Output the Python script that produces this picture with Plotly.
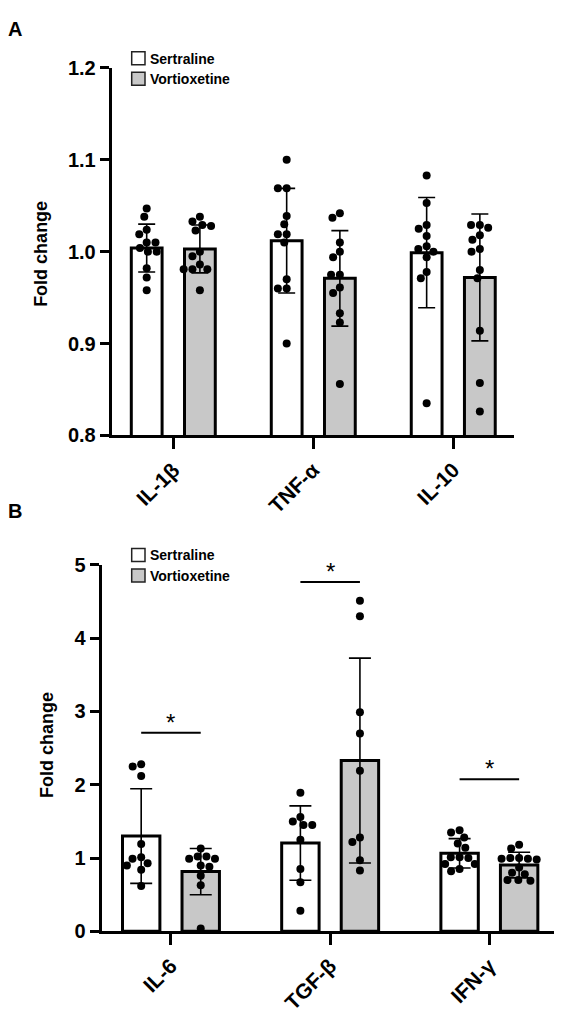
import plotly.graph_objects as go

W, H = 566, 1014

# ---------------- data ----------------
cats_A = ["IL-1β", "TNF-α", "IL-10"]
cats_B = ["IL-6", "TGF-β", "IFN-γ"]
series = ["Sertraline", "Vortioxetine"]

mean_A_sert = [1.004, 1.012, 0.999]
sd_A_sert = [0.026, 0.057, 0.060]
mean_A_vort = [1.003, 0.971, 0.972]
sd_A_vort = [0.026, 0.052, 0.069]

pts_A_sert = [
    [1.047, 1.038, 1.024, 1.019, 1.010, 1.010, 1.004, 1.000, 1.000, 0.982, 0.972, 0.958],
    [1.100, 1.069, 1.069, 1.039, 1.030, 1.019, 1.019, 1.010, 0.970, 0.960, 0.960, 0.900],
    [1.083, 1.053, 1.029, 1.025, 1.017, 1.006, 1.003, 1.000, 0.994, 0.978, 0.971, 0.835],
]
pts_A_vort = [
    [1.038, 1.033, 1.029, 1.028, 1.023, 1.000, 0.995, 0.986, 0.981, 0.981, 0.981, 0.958],
    [1.042, 1.037, 1.010, 1.000, 0.994, 0.975, 0.975, 0.961, 0.955, 0.933, 0.923, 0.856],
    [1.029, 1.029, 1.026, 1.018, 1.013, 1.003, 1.000, 0.980, 0.971, 0.914, 0.857, 0.826],
]

mean_B_sert = [1.30, 1.205, 1.065]
sd_B_sert = [0.645, 0.507, 0.20]
mean_B_vort = [0.815, 2.33, 0.905]
sd_B_vort = [0.315, 1.398, 0.175]

pts_B_sert = [
    [2.28, 2.25, 2.12, 1.19, 1.01, 0.99, 0.93, 0.90, 0.84, 0.62],
    [1.89, 1.56, 1.50, 1.45, 1.45, 1.25, 0.85, 0.67, 0.28],
    [1.38, 1.35, 1.28, 1.20, 1.14, 1.01, 1.01, 1.00, 0.92, 0.92, 0.85, 0.82],
]
pts_B_vort = [
    [1.13, 1.02, 1.02, 0.99, 0.99, 0.90, 0.88, 0.76, 0.63, 0.04],
    [4.51, 4.30, 2.99, 2.70, 2.19, 1.28, 1.22, 0.97, 0.83],
    [1.18, 1.13, 1.00, 1.00, 0.99, 0.99, 0.98, 0.87, 0.80, 0.78, 0.70, 0.70, 0.69],
]
sig_B = [2.71, 4.765, 2.076]

# ---------------- geometry ----------------
FONT = "Arial, Liberation Sans, sans-serif"
GRAY = "#c8c8c8"

def px_x(v):
    return v / W

def px_y(v):
    return 1 - v / H

panels = {
    "A": dict(x0=111.7, x1=514.0, y0=58.3, y1=434.3, xr=[-0.44, 2.434], yr=[0.8, 1.2],
              off=0.19, bw=0.22, cap=8.5),
    "B": dict(x0=101.7, x1=554.0, y0=566.7, y1=941.7, xr=[-0.435, 2.406], yr=[0, 5],
              off=0.187, bw=0.235, cap=11),
}


def swarm(values, ppu_y, D=8.8):
    order = sorted(range(len(values)), key=lambda i: -values[i])
    placed = []
    xs = [0.0] * len(values)
    for i in order:
        y = values[i] * ppu_y
        cands = [0.0]
        for (px, py) in placed:
            dy = y - py
            if abs(dy) < D:
                dx = (D * D - dy * dy) ** 0.5
                cands += [px - dx, px + dx]
        ok = [c for c in cands
              if all((c - px) ** 2 + (y - py) ** 2 >= D * D - 1e-6 for px, py in placed)]
        best = min(ok, key=lambda c: (abs(c), c))
        placed.append((best, y))
        xs[i] = best
    return xs


fig = go.Figure()

def add_panel(key, xa, ya, means_s, sds_s, means_v, sds_v, pts_s, pts_v):
    p = panels[key]
    ppu_x = (p["x1"] - p["x0"]) / (p["xr"][1] - p["xr"][0])
    ppu_y = (p["y1"] - p["y0"]) / (p["yr"][1] - p["yr"][0])
    n = len(means_s)
    for s, (means, sds, fill, sign) in enumerate([(means_s, sds_s, "white", -1),
                                                   (means_v, sds_v, GRAY, 1)]):
        xs = [i + sign * p["off"] for i in range(n)]
        fig.add_trace(go.Bar(
            x=xs, y=means, width=[p["bw"]] * n, xaxis=xa, yaxis=ya,
            marker=dict(color=fill, line=dict(color="black", width=3)),
            error_y=dict(type="data", array=sds, visible=True, color="black",
                         thickness=1.6, width=p["cap"]),
            showlegend=False, name=series[s],
        ))
    for s, (pts, sign) in enumerate([(pts_s, -1), (pts_v, 1)]):
        for i, vals in enumerate(pts):
            dx = swarm(vals, ppu_y)
            xs = [i + sign * p["off"] + d / ppu_x for d in dx]
            fig.add_trace(go.Scatter(
                x=xs, y=vals, mode="markers", xaxis=xa, yaxis=ya,
                marker=dict(color="black", size=8, line=dict(width=0)),
                showlegend=False, cliponaxis=False, hoverinfo="y",
            ))

add_panel("A", "x", "y", mean_A_sert, sd_A_sert, mean_A_vort, sd_A_vort, pts_A_sert, pts_A_vort)
add_panel("B", "x2", "y2", mean_B_sert, sd_B_sert, mean_B_vort, sd_B_vort, pts_B_sert, pts_B_vort)

tickfont = dict(family=FONT, size=20, color="black", weight="bold")
xtickfont = dict(family=FONT, size=21, color="black", weight="bold")

def xaxis_cfg(key, cats, anchor):
    p = panels[key]
    return dict(domain=[px_x(p["x0"]), px_x(p["x1"])], range=p["xr"], anchor=anchor,
                tickvals=[0, 1, 2], ticktext=cats, tickangle=-45, ticks="outside",
                ticklen=11, tickwidth=3, tickcolor="black", showline=True, linewidth=3,
                linecolor="black", showgrid=False, zeroline=False, tickfont=xtickfont,
                fixedrange=True)

def yaxis_cfg(key, anchor, dtick, fmt):
    p = panels[key]
    return dict(domain=[px_y(p["y1"]), px_y(p["y0"])], range=p["yr"], anchor=anchor,
                tick0=p["yr"][0], dtick=dtick, tickformat=fmt, ticks="outside",
                ticklen=9, tickwidth=3, tickcolor="black", showline=True, linewidth=3,
                linecolor="black", showgrid=False, zeroline=False, tickfont=tickfont,
                fixedrange=True)

shapes = []
annotations = []

# significance markers panel B
pB = panels["B"]
for i, h in enumerate(sig_B):
    shapes.append(dict(type="line", xref="x2", yref="y2", x0=i - pB["off"], x1=i + pB["off"],
                       y0=h, y1=h, line=dict(color="black", width=2)))
    annotations.append(dict(x=i, y=h, xref="x2", yref="y2", text="*", showarrow=False,
                            xanchor="center", yanchor="bottom", yshift=-5,
                            font=dict(family=FONT, size=24, color="black")))

# legends
for top in (41.7, 550.0):
    for k, fill in enumerate(["white", GRAY]):
        y0 = top + k * 21
        shapes.append(dict(type="rect", xref="paper", yref="paper",
                           x0=px_x(131.7), x1=px_x(145.0), y0=px_y(y0 + 13.3), y1=px_y(y0),
                           fillcolor=fill, line=dict(color="#222", width=1.5)))
        annotations.append(dict(x=px_x(147.5), y=px_y(y0 + 7.0), xref="paper", yref="paper",
                                text=series[k], showarrow=False, xanchor="left",
                                yanchor="middle",
                                font=dict(family=FONT, size=14, color="black", weight="bold")))

# panel letters
for letter, yc in (("A", 18.5), ("B", 511.5)):
    annotations.append(dict(x=px_x(6), y=px_y(yc), xref="paper", yref="paper", text=letter,
                            showarrow=False, xanchor="left", yanchor="middle",
                            font=dict(family=FONT, size=20, color="black", weight="bold")))

# y axis titles
for xc, yc in ((41.5, 248.0), (47.0, 751.0)):
    annotations.append(dict(x=px_x(xc), y=px_y(yc), xref="paper", yref="paper",
                            text="Fold change", textangle=-90, showarrow=False,
                            xanchor="center", yanchor="middle",
                            font=dict(family=FONT, size=18, color="black", weight="bold")))

fig.update_layout(
    width=W, height=H, margin=dict(l=0, r=0, t=0, b=0),
    paper_bgcolor="white", plot_bgcolor="white",
    barmode="overlay", showlegend=False,
    xaxis=xaxis_cfg("A", cats_A, "y"),
    yaxis=yaxis_cfg("A", "x", 0.1, ".1f"),
    xaxis2=xaxis_cfg("B", cats_B, "y2"),
    yaxis2=yaxis_cfg("B", "x2", 1, "d"),
    shapes=shapes, annotations=annotations,
)

fig.write_html("out.html")
